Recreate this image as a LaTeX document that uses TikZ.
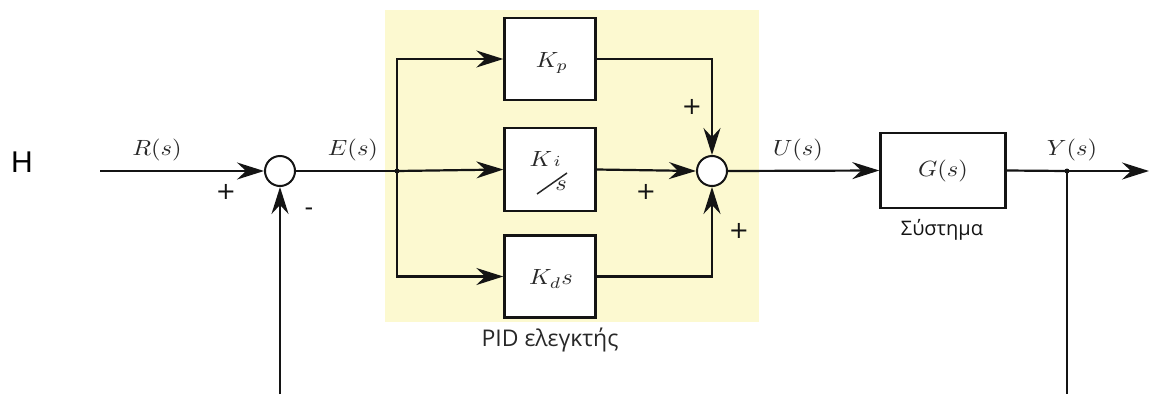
\documentclass[tikz,border=0pt]{standalone}
\usepackage[no-math]{fontspec}
\usepackage{graphicx}
\newfontfamily\sansgr{Open Sans}
\newfontfamily\arialf{Liberation Sans}
\newfontfamily\dejaf{DejaVu Sans}
\usetikzlibrary{arrows.meta}
\definecolor{pidbg}{RGB}{252,249,208}
\definecolor{ink}{RGB}{20,20,20}
\definecolor{txtgray}{RGB}{40,40,40}
\newcommand{\mx}[1]{\scalebox{2.45}[2.2]{$#1$}}
\tikzset{
  blk/.style={draw=ink, line width=2.4pt, fill=white, minimum width=91pt, minimum height=82pt, inner sep=0pt, text=txtgray},
  sumc/.style={circle, draw=ink, line width=2pt, fill=white, minimum size=30pt, inner sep=0pt},
  wire/.style={draw=ink, line width=2.2pt},
  sig/.style={wire, -{Stealth[length=27pt,width=17pt,inset=9pt]}},
  mlbl/.style={text=txtgray, inner sep=0pt},
  sgn/.style={font=\dejaf\fontsize{24}{28}\selectfont, text=ink, inner sep=0pt},
  grlbl/.style={font=\sansgr\fontsize{23}{26}\selectfont, text=txtgray, inner sep=0pt},
  dotc/.style={circle, fill=ink, inner sep=0pt, minimum size=5pt}
}
\begin{document}
\begin{tikzpicture}[x=1pt,y=-1pt]
\useasboundingbox (0,0) rectangle (1149,394);
% PID background
\fill[pidbg] (385,10) rectangle (759,322);
% left letter
\node[font=\arialf\fontsize{30}{34}\selectfont, inner sep=0pt] (hl) at (22,162) {H};
% first summing junction
\node[sumc] (s1) at (280,171) {};
\coordinate (in) at (100,171);
\coordinate (fb1) at (280,394);
\draw[sig] (in) -- (s1);
\draw[sig] (fb1) -- (s1.south);
\node[mlbl] (rl) at (157,150) {\mx{R(s)}};
\node[sgn] (p1) at (226,192) {+};
\node[sgn] (m1) at (309,212) {-};
% branch point
\coordinate (br) at (397,171);
\node[mlbl] (el) at (353,150) {\mx{E(s)}};
% PID blocks
\node[blk] (kp) at (550,59) {};
\node[blk, minimum height=83pt] (ki) at (550,169.5) {};
\node[blk] (kd) at (550,276.5) {};
\node[mlbl] (kpt) at (552,63) {\mx{K_p}};
\node[mlbl] (kdt) at (551,279) {\mx{K_d s}};
\node[mlbl] (kiK) at (541,159) {\mx{K}};
\node[mlbl] (kii) at (557,161) {\mx{\scriptstyle i}};
\node[mlbl] (kis) at (561,186) {\mx{s}};
\draw[txtgray, line width=1.5pt] (537,194) -- (567,173);
\draw[wire] (s1) -- (br);
\draw[sig] (br) |- (kp.west);
\draw[sig] (br) -- (ki.west);
\draw[sig] (br) |- (kd.west);
\node[dotc] (brd) at (br) {};
% second summing junction
\node[sumc] (s2) at (712,171) {};
\draw[sig] (kp.east) -| (s2.north);
\draw[sig] (ki.east) -- (s2.west);
\draw[sig] (kd.east) -| (s2.south);
\node[sgn] (p2) at (692,107) {+};
\node[sgn] (p3) at (646,192) {+};
\node[sgn] (p4) at (739,231) {+};
\node[grlbl] (pidl) at (550,340) {PID ελεγκτής};
% plant
\node[blk, minimum width=125pt, minimum height=75pt] (g) at (943,170.5) {\mx{G(s)}};
\node[mlbl] (ul) at (798,150) {\mx{U(s)}};
\draw[sig] (s2.east) -- (g.west);
\node[grlbl, font=\sansgr\fontsize{20}{24}\selectfont, text=ink] (sysl) at (942,230) {Σύστημα};
% output
\coordinate (yb) at (1067,171);
\coordinate (out) at (1149,171);
\coordinate (fb2) at (1067,394);
\draw[wire] (g.east) -- (yb);
\draw[sig] (yb) -- (out);
\draw[wire] (yb) -- (fb2);
\node[dotc] (ybd) at (yb) {};
\node[mlbl] (yl) at (1072,150) {\mx{Y(s)}};
\end{tikzpicture}
\end{document}
